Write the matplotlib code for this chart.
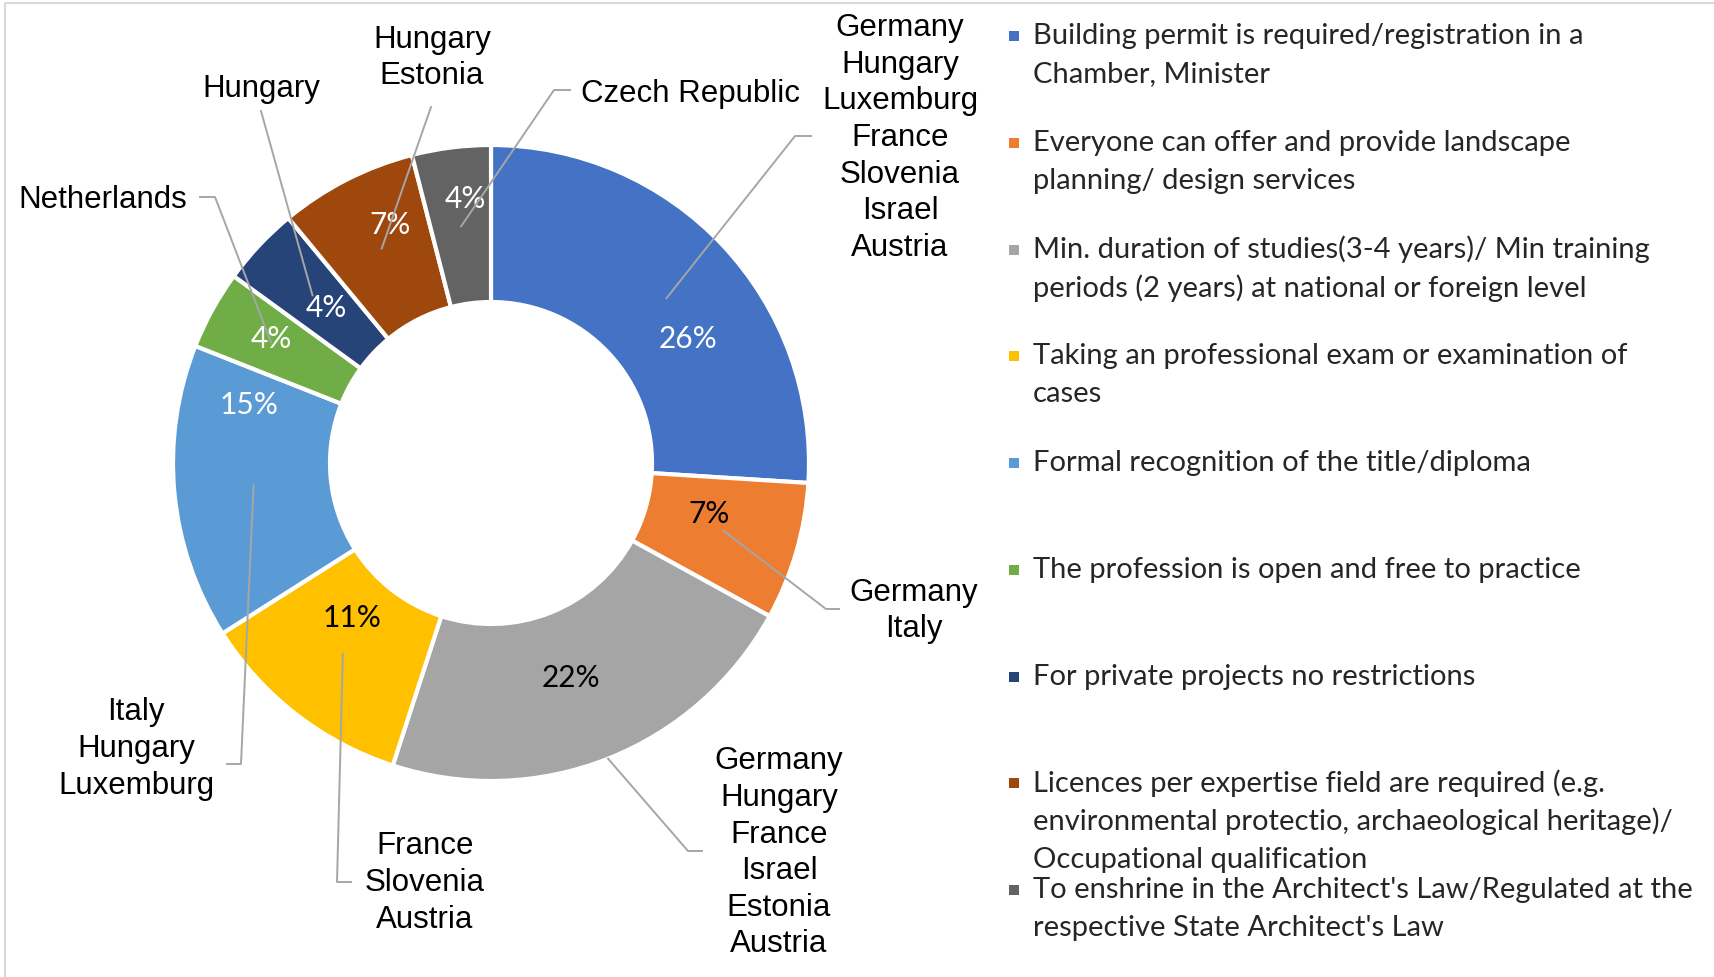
import numpy as np
import matplotlib
matplotlib.use("Agg")
import matplotlib.pyplot as plt
from matplotlib.patches import Rectangle

# ── data ────────────────────────────────────────────────────────
shares = [26, 7, 22, 11, 15, 4, 4, 7, 4]
colors = ["#4472C4", "#ED7D31", "#A5A5A5", "#FFC000", "#5B9BD5",
          "#70AD47", "#264478", "#9E480E", "#636363"]
pct_colors = ["white", "black", "black", "black", "white",
              "white", "white", "white", "white"]
countries = [
    "Germany\nHungary\nLuxemburg\nFrance\nSlovenia\nIsrael\nAustria",
    "Germany\nItaly",
    "Germany\nHungary\nFrance\nIsrael\nEstonia\nAustria",
    "France\nSlovenia\nAustria",
    "Italy\nHungary\nLuxemburg",
    "Netherlands",
    "Hungary",
    "Hungary\nEstonia",
    "Czech Republic",
]
legend_labels = [
    "Building permit is required/registration in a\nChamber, Minister",
    "Everyone can offer and provide landscape\nplanning/ design services",
    "Min. duration of studies(3-4 years)/ Min training\nperiods (2 years) at national or foreign level",
    "Taking an professional exam or examination of\ncases",
    "Formal recognition of the title/diploma",
    "The profession is open and free to practice",
    "For private projects no restrictions",
    "Licences per expertise field are required (e.g.\nenvironmental protectio, archaeological heritage)/\nOccupational qualification",
    "To enshrine in the Architect's Law/Regulated at the\nrespective State Architect's Law",
]

# ── layout (pixels, y measured from top) ────────────────────────
W, H = 1715, 977
CX, CY, R, R_IN = 491, 463, 318, 161
LEADER = "#A6A6A6"

pct_pos = [(688, 339), (709, 514), (571, 678), (352, 618), (249, 405),
           (271, 339), (326, 308), (390, 225), (465, 199)]
label_pos = [(900, 138), (914, 611), (779, 853), (425, 883), (136, 749),
             (103, 200), (261, 89), (432, 58), (691, 94)]
# leader: start radius (fraction of R), then remaining path points
leaders = [
    (0.757, [(795, 136), (811, 136)]),
    (0.76,  [(826, 609), (839, 609)]),
    (1.0,   [(688, 851), (702, 851)]),
    (0.76,  [(337, 882), (351, 882)]),
    (0.75,  [(241, 764), (227, 764)]),
    (0.79,  [(215, 197), (200, 197)]),
    (0.77,  [(261, 111)]),
    (0.757, [(431, 107)]),
    (0.75,  [(554, 90), (570, 90)]),
]


def py(y):
    return H - y


fig = plt.figure(figsize=(W / 100, H / 100), dpi=100)
ax = fig.add_axes([0, 0, 1, 1])

wedges, texts, autotexts = ax.pie(
    shares, colors=colors, startangle=90, counterclock=False,
    radius=R, center=(CX, py(CY)),
    autopct=lambda p: f"{p:.0f}%", pctdistance=0.75,
    wedgeprops=dict(width=R - R_IN, edgecolor="white", linewidth=3),
)
ax.set_xlim(0, W)
ax.set_ylim(0, H)
ax.set_aspect("equal")
ax.axis("off")

for t, c, (x, y) in zip(autotexts, pct_colors, pct_pos):
    t.set_position((x, py(y)))
    t.set_color(c)
    t.set_fontfamily("Lato")
    t.set_fontsize(21.5)
    t.set_ha("center")
    t.set_va("center")

# country labels with leader lines
LINE_H = 36.6
for w, txt, (lx, ly), (frac, path) in zip(wedges, countries, label_pos, leaders):
    mid = np.deg2rad((w.theta1 + w.theta2) / 2)
    x0 = CX + frac * R * np.cos(mid)
    y0 = py(CY) + frac * R * np.sin(mid)
    xs = [x0] + [p[0] for p in path]
    ys = [y0] + [py(p[1]) for p in path]
    ax.plot(xs, ys, color=LEADER, lw=1.4, zorder=5)

    lines = txt.split("\n")
    top = ly - (len(lines) - 1) * LINE_H / 2
    for i, line in enumerate(lines):
        ax.text(lx, py(top + i * LINE_H), line, ha="center", va="center",
                fontsize=22.5, family="Liberation Sans", color="black")

# legend on the right
LEG_X, LEG_Y0, LEG_STEP, LEG_LINE = 1033, 36, 106.75, 38.2
for i, (lab, c) in enumerate(zip(legend_labels, colors)):
    y = LEG_Y0 + i * LEG_STEP
    ax.add_patch(Rectangle((1009, py(y) - 5), 10, 10, color=c, lw=0))
    for j, line in enumerate(lab.split("\n")):
        ax.text(LEG_X, py(y + j * LEG_LINE), line, ha="left", va="center",
                fontsize=21, family="Lato", color="#262626")

# thin chart-area border
ax.plot([5, 5, W], [0, py(3), py(3)], color="#D9D9D9", lw=1.5, clip_on=False)

fig.savefig("out.png", dpi=100, facecolor="white")
